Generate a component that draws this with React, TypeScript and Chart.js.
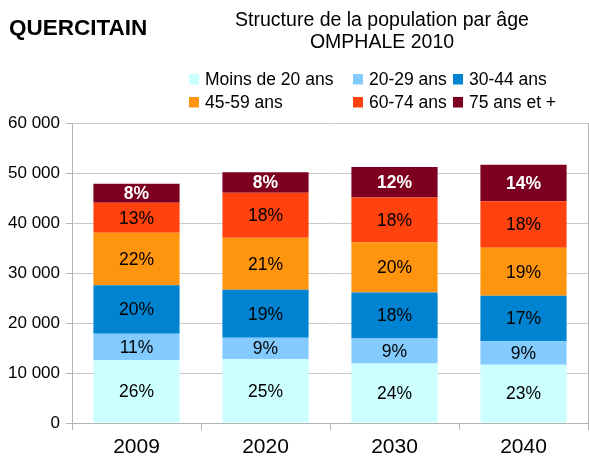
import React, { useEffect, useRef } from 'react';
import { Chart, registerables } from 'chart.js';

Chart.register(...registerables);

const FONT = '"Liberation Sans", Arial, sans-serif';

const categories = ['2009', '2020', '2030', '2040'];
const seriesNames = ['Moins de 20 ans', '20-29 ans', '30-44 ans', '45-59 ans', '60-74 ans', '75 ans et +'];
const seriesColors = ['#ccffff', '#83caff', '#0084d1', '#ff950e', '#ff420e', '#7e0021'];

const moins20 = [12530, 12730, 11920, 11660];
const ans2029 = [5330, 4330, 5000, 4670];
const ans3044 = [9670, 9600, 9200, 9130];
const ans4559 = [10530, 10400, 10000, 9600];
const ans6074 = [6000, 9000, 9000, 9270];
const ans75 = [3800, 4070, 6080, 7330];

const pctMoins20 = [26, 25, 24, 23];
const pct2029 = [11, 9, 9, 9];
const pct3044 = [20, 19, 18, 17];
const pct4559 = [22, 21, 20, 19];
const pct6074 = [13, 18, 18, 18];
const pct75 = [8, 8, 12, 14];

const yTicks = [0, 10000, 20000, 30000, 40000, 50000, 60000];

const heading = 'QUERCITAIN';
const titleLines = ['Structure de la population par âge', 'OMPHALE 2010'];

const seriesValues = [moins20, ans2029, ans3044, ans4559, ans6074, ans75];
const seriesPct = [pctMoins20, pct2029, pct3044, pct4559, pct6074, pct75];

const fmt = (v: number) => String(v).replace(/\B(?=(\d{3})+(?!\d))/g, ' ');

const decorPlugin = {
  id: 'decor',
  afterDatasetsDraw(chart: any) {
    const ctx = chart.ctx;
    ctx.save();
    ctx.textAlign = 'center';
    ctx.textBaseline = 'middle';
    chart.data.datasets.forEach((ds: any, i: number) => {
      const meta = chart.getDatasetMeta(i);
      const last = i === chart.data.datasets.length - 1;
      meta.data.forEach((el: any, j: number) => {
        const p = el.getProps(['x', 'y', 'base'], true);
        ctx.font = (last ? 'bold ' : '') + '17.5px ' + FONT;
        ctx.fillStyle = last ? '#ffffff' : '#000000';
        ctx.fillText(ds.pct[j] + '%', p.x, (p.y + p.base) / 2 + 1);
      });
    });
    ctx.restore();
  },
  afterDraw(chart: any) {
    const ctx = chart.ctx;
    ctx.save();
    ctx.fillStyle = '#000000';
    ctx.textBaseline = 'alphabetic';
    ctx.textAlign = 'left';
    ctx.font = 'bold 22.5px ' + FONT;
    ctx.fillText(heading, 9, 35);
    ctx.textAlign = 'center';
    ctx.font = '19.5px ' + FONT;
    ctx.fillText(titleLines[0], 382, 26);
    ctx.fillText(titleLines[1], 382, 48);
    // legend grid: 3 columns, 2 rows
    const colX = [189, 353, 453];
    const rowBase = [85, 108];
    ctx.textAlign = 'left';
    ctx.font = '17.5px ' + FONT;
    chart.data.datasets.forEach((ds: any, i: number) => {
      const c = i % 3;
      const r = Math.floor(i / 3);
      ctx.fillStyle = ds.backgroundColor;
      ctx.fillRect(colX[c], rowBase[r] - 11, 10, 10.5);
      ctx.fillStyle = '#000000';
      ctx.fillText(ds.label, colX[c] + 16, rowBase[r]);
    });
    ctx.restore();
  },
};

export default function App() {
  const ref = useRef<HTMLCanvasElement>(null);
  useEffect(() => {
    if (!ref.current) return;
    const chart = new Chart(ref.current, {
      type: 'bar',
      data: {
        labels: categories,
        datasets: seriesNames.map((name, i) => ({
          label: name,
          data: seriesValues[i],
          backgroundColor: seriesColors[i],
          borderWidth: 0,
          pct: seriesPct[i],
          barPercentage: 0.668,
          categoryPercentage: 1,
        })) as any,
      },
      options: {
        animation: false,
        responsive: false,
        layout: { padding: { top: 123, right: 1, left: 0, bottom: 0 } },
        plugins: {
          legend: { display: false },
          title: { display: false },
          tooltip: { enabled: false },
        },
        scales: {
          x: {
            stacked: true,
            offset: true,
            grid: {
              offset: true,
              drawOnChartArea: true,
              color: (ctx: any) => (ctx.index === undefined ? '#b3b3b3' : 'rgba(0,0,0,0)'),
              tickColor: '#b3b3b3',
              tickLength: 7,
            },
            border: { color: '#b3b3b3' },
            ticks: {
              color: '#000000',
              font: { family: FONT, size: 21 },
              padding: 5,
            },
            afterFit: (scale: any) => {
              scale.height = 36;
            },
          },
          y: {
            stacked: true,
            min: 0,
            max: 60000,
            afterBuildTicks: (scale: any) => {
              scale.ticks = yTicks.map((v) => ({ value: v }));
            },
            grid: {
              color: '#c8c8c8',
              tickColor: '#b3b3b3',
              tickLength: 6,
            },
            border: { color: '#b3b3b3' },
            ticks: {
              color: '#000000',
              font: { family: FONT, size: 17 },
              padding: 6,
              callback: (v: any) => fmt(Number(v)),
            },
            afterFit: (scale: any) => {
              scale.width = 72;
            },
          },
        },
      },
      plugins: [decorPlugin],
    });
    return () => chart.destroy();
  }, []);
  return (
    <div style={{ position: 'absolute', left: 0, top: 0, width: 589, height: 459, background: '#fff' }}>
      <canvas ref={ref} width={589} height={459} style={{ display: 'block' }} />
    </div>
  );
}
